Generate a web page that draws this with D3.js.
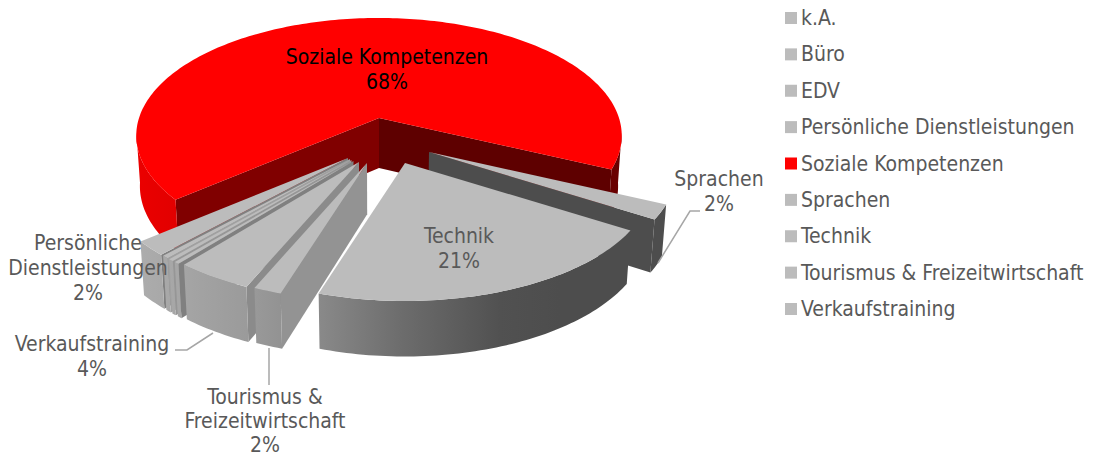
<!DOCTYPE html>
<html>
<head>
<meta charset="utf-8">
<script src="https://cdn.jsdelivr.net/npm/d3@7/dist/d3.min.js"></script>
<style>
  html, body { margin: 0; padding: 0; background: #fff; }
  svg { display: block; }
  text { font-family: "DejaVu Sans Condensed", "DejaVu Sans", sans-serif; font-stretch: condensed; font-size: 21px; fill: #595959; }
</style>
</head>
<body>
<div id="chart"></div>
<script>
// Werte (Prozent)
const categories = ["k.A.", "Büro", "EDV", "Persönliche Dienstleistungen", "Soziale Kompetenzen", "Sprachen", "Technik", "Tourismus & Freizeitwirtschaft", "Verkaufstraining"];
const values = [0.3, 0.3, 0.4, 2, 68, 2, 21, 1.6, 4.4];

const width = 1099, height = 457;
const cx = 379, cy = 118;          // Spitze des roten Stücks
const R = 240, Ry = 115, k = 0.15; // Ellipse und Perspektive

// Explosion der Stücke in Pixel, Reihenfolge wie categories
const explode = [[-25.5, 43], [-27.5, 42], [-29, 41], [-31, 40], [0, 0], [50, 34], [26, 45], [-12, 45], [-20, 44]];
// Helligkeit der Radialwände [Anfang, Ende]
const wallShade = [[0.68, 0.68], [0.8, 0.8], [0.85, 0.85], [0.68, 0.68], [0.5, 0.37], [0.41, 0.41], [0.41, 0.41], [0.78, 0.78], [0.74, 0.74]];
const paintOrder = [4, 5, 6, 3, 2, 1, 0, 8, 7];

const GREY = "#bcbcbc", RED = "#ff0000";
const color = d3.scaleOrdinal().domain(categories).range(categories.map(c => c === "Soziale Kompetenzen" ? RED : GREY));

const svg = d3.select("#chart").append("svg").attr("width", width).attr("height", height);
const defs = svg.append("defs");

// Seitenwände: Licht von links nach rechts
const wallStops = [[136, 0.92], [250, 0.82], [320, 0.73], [400, 0.58], [500, 0.43], [560, 0.41], [668, 0.41]];
[["wall-grey", GREY], ["wall-red", RED]].forEach(([id, base]) => {
    const grad = defs.append("linearGradient")
        .attr("id", id)
        .attr("gradientUnits", "userSpaceOnUse")
        .attr("x1", 136).attr("x2", 668).attr("y1", 0).attr("y2", 0);
    wallStops.forEach(([x, f]) => {
        grad.append("stop")
            .attr("offset", (x - 136) / (668 - 136))
            .attr("stop-color", shade(base, f));
    });
});

function shade(c, f) {
    const r = d3.rgb(c);
    return d3.rgb(r.r * f, r.g * f, r.b * f).formatHex();
}

const pie = d3.pie().sort(null).value(d => d)
    .startAngle(219.2 * Math.PI / 180)
    .endAngle((219.2 + 360) * Math.PI / 180);
const slices = pie(values).map((d, i) => ({ ...d, i, name: categories[i], off: explode[i], s: i === 4 ? 1 : 1.02 }));

const line = d3.line();

// Punkt auf der Oberseite, a im Bogenmass, 0 oben, im Uhrzeigersinn
function topPoint(a, sl) {
    const u = Math.sin(a), v = -Math.cos(a);
    const p = 1 / (1 - k * v);
    return [cx + sl.off[0] + sl.s * R * u * p, cy + sl.off[1] + sl.s * Ry * v * p];
}
function apex(sl) { return [cx + sl.off[0], cy + sl.off[1]]; }
function down(pt) {
    return [cx + (pt[0] - cx) * 0.985, pt[1] + 50 + (pt[1] - cy) * 0.03];
}
function arcPts(a0, a1, sl) {
    const n = Math.max(2, Math.ceil(Math.abs(a1 - a0) / 0.02));
    return d3.range(n + 1).map(j => topPoint(a0 + (a1 - a0) * j / n, sl));
}

const visFrom = 97 * Math.PI / 180, visTo = 263 * Math.PI / 180, turn = 2 * Math.PI;

paintOrder.forEach(i => {
    const sl = slices[i];
    const g = svg.append("g").attr("class", "slice");
    const fill = color(sl.name);
    const grad = fill === RED ? "url(#wall-red)" : "url(#wall-grey)";

    // sichtbare Radialwände
    const drawWall = (a, visible, f) => {
        if (!visible) return;
        const A = apex(sl), B = topPoint(a, sl);
        g.append("path")
            .attr("d", line([A, B, down(B), down(A)]) + "Z")
            .attr("fill", shade(fill, f));
    };
    drawWall(sl.startAngle, -Math.sin(sl.startAngle) > 0, wallShade[i][0]);
    drawWall(sl.endAngle, Math.sin(sl.endAngle) > 0, wallShade[i][1]);

    // Aussenwand nur im vorderen Bereich
    [0, turn].forEach(shift => {
        const a0 = Math.max(sl.startAngle, visFrom + shift);
        const a1 = Math.min(sl.endAngle, visTo + shift);
        if (a1 <= a0) return;
        const upper = arcPts(a0, a1, sl);
        const lower = upper.map(down).reverse();
        g.append("path")
            .attr("d", line(upper.concat(lower)) + "Z")
            .attr("fill", grad);
    });

    // Oberseite
    g.append("path")
        .attr("d", line([apex(sl)].concat(arcPts(sl.startAngle, sl.endAngle, sl))) + "Z")
        .attr("fill", fill);
});

// Führungslinien
const leaders = [
    [[700, 211], [690, 211], [658, 263]],
    [[175, 350], [187, 350], [213, 333]],
    [[269, 348], [269, 385]]
];
svg.append("g").selectAll("path").data(leaders).join("path")
    .attr("d", d => line(d))
    .attr("fill", "none")
    .attr("stroke", "#a6a6a6")
    .attr("stroke-width", 1.5);

// Beschriftungen
const pct = name => Math.round(values[categories.indexOf(name)]) + "%";
const labels = [
    { name: "Soziale Kompetenzen", x: 387, y: 64, lines: ["Soziale Kompetenzen"], fill: "#000" },
    { name: "Sprachen", x: 719, y: 186, lines: ["Sprachen"] },
    { name: "Technik", x: 459, y: 243, lines: ["Technik"] },
    { name: "Persönliche Dienstleistungen", x: 88, y: 250, lines: ["Persönliche", "Dienstleistungen"] },
    { name: "Verkaufstraining", x: 92, y: 351, lines: ["Verkaufstraining"] },
    { name: "Tourismus & Freizeitwirtschaft", x: 265, y: 404, step: 24, lines: ["Tourismus &", "Freizeitwirtschaft"] }
];
const labelSel = svg.append("g").selectAll("text").data(labels).join("text")
    .attr("text-anchor", "middle")
    .style("fill", d => d.fill || "#595959");
labelSel.each(function (d) {
    const t = d3.select(this);
    d.lines.concat(pct(d.name)).forEach((s, j) => {
        t.append("tspan").attr("x", d.x).attr("y", d.y + j * (d.step || 25)).text(s);
    });
});

// Legende
const legendY = d3.scalePoint().domain(categories).range([18, 309]);
const legend = svg.append("g").selectAll("g").data(categories).join("g")
    .attr("transform", d => `translate(785,${legendY(d)})`);
legend.append("rect")
    .attr("y", -6).attr("width", 12).attr("height", 12)
    .attr("fill", d => color(d));
legend.append("text")
    .attr("x", 16).attr("y", 7)
    .text(d => d);
</script>
</body>
</html>
